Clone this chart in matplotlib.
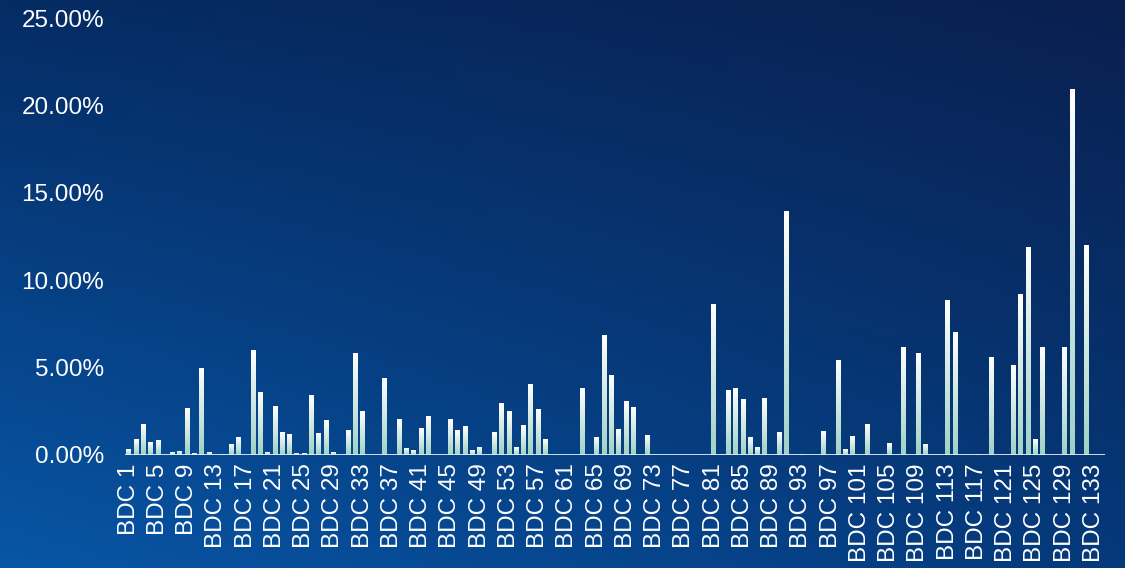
import numpy as np
import matplotlib
matplotlib.use('Agg')
import matplotlib.pyplot as plt
from matplotlib.colors import LinearSegmentedColormap, to_rgb

plt.rcParams['font.family'] = ['Liberation Sans', 'DejaVu Sans']

# 各 BDC 占比（%）
bdc_names = [f'BDC {i}' for i in range(1, 135)]
shares = [
    0.34, 0.91, 1.76, 0.74, 0.85, 0.00, 0.17, 0.23, 2.67, 0.11,
    5.00, 0.17, 0.00, 0.06, 0.63, 1.02, 0.00, 6.02, 3.58, 0.17,
    2.78, 1.31, 1.19, 0.11, 0.11, 3.41, 1.25, 1.99, 0.17, 0.00,
    1.42, 5.85, 2.50, 0.00, 0.00, 4.38, 0.00, 2.05, 0.40, 0.28,
    1.53, 2.22, 0.00, 0.00, 2.05, 1.42, 1.65, 0.28, 0.45, 0.00,
    1.31, 2.95, 2.50, 0.45, 1.70, 4.09, 2.61, 0.91, 0.00, 0.00,
    0.00, 0.00, 3.81, 0.00, 1.02, 6.88, 4.55, 1.48, 3.07, 2.73,
    0.00, 1.14, 0.00, 0.00, 0.00, 0.00, 0.00, 0.00, 0.00, 0.00,
    8.64, 0.06, 3.69, 3.86, 3.18, 1.02, 0.45, 3.24, 0.00, 1.31,
    13.95, 0.00, 0.06, 0.00, 0.00, 1.36, 0.00, 5.45, 0.34, 1.08,
    0.00, 1.76, 0.00, 0.00, 0.68, 0.00, 6.19, 0.00, 5.85, 0.63,
    0.00, 0.00, 8.86, 7.05, 0.00, 0.00, 0.06, 0.00, 5.63, 0.00,
    0.00, 5.17, 9.20, 11.88, 0.91, 6.19, 0.00, 0.00, 6.19, 20.97,
    0.00, 11.99, 0.00, 0.00,
]
y_ticks = [0, 5, 10, 15, 20, 25]
tick_names = bdc_names[::4]

fig = plt.figure(figsize=(11.25, 5.68), dpi=100)

# 背景渐变
bg = fig.add_axes([0, 0, 1, 1], zorder=-10)
tl, tr = np.array(to_rgb('#052c64')), np.array(to_rgb('#0a2050'))
bl, br = np.array(to_rgb('#0856a6')), np.array(to_rgb('#05397a'))
u = np.linspace(0, 1, 200)[None, :, None]
v = np.linspace(0, 1, 100)[:, None, None]
img = (1 - v) * ((1 - u) * tl + u * tr) + v * ((1 - u) * bl + u * br)
bg.imshow(img, aspect='auto', extent=[0, 1, 0, 1], origin='upper')
bg.axis('off')

ax = fig.add_axes([0.111, 0.199, 0.871, 0.769])
ax.patch.set_alpha(0)

x = np.arange(len(shares))
bars = ax.bar(x, shares, width=0.62, color='none', edgecolor='none')

cmap = LinearSegmentedColormap.from_list('bar', ['#9fd1c5', '#ffffff'])
grad = np.linspace(0, 1, 256).reshape(-1, 1)
for rect in bars:
    h = rect.get_height()
    if h <= 0:
        continue
    x0 = rect.get_x()
    im = ax.imshow(grad, cmap=cmap, aspect='auto', origin='lower',
                   extent=[x0, x0 + rect.get_width(), 0, h], zorder=2)
    im.set_clip_path(rect)

ax.axhline(0, color='#e4ecf3', lw=2, zorder=3)

ax.set_xlim(-0.5, len(shares) - 0.5)
ax.set_ylim(0, 25)
ax.set_yticks(y_ticks)
ax.set_yticklabels([f'{t:.2f}%' for t in y_ticks])
ax.set_xticks(x[::4])
ax.set_xticklabels(tick_names, rotation=90)
ax.tick_params(axis='y', length=0, pad=15, labelsize=17.5, labelcolor='white')
ax.tick_params(axis='x', length=0, pad=6, labelsize=17.5, labelcolor='white')
for s in ax.spines.values():
    s.set_visible(False)

fig.savefig('out.png', dpi=100)
